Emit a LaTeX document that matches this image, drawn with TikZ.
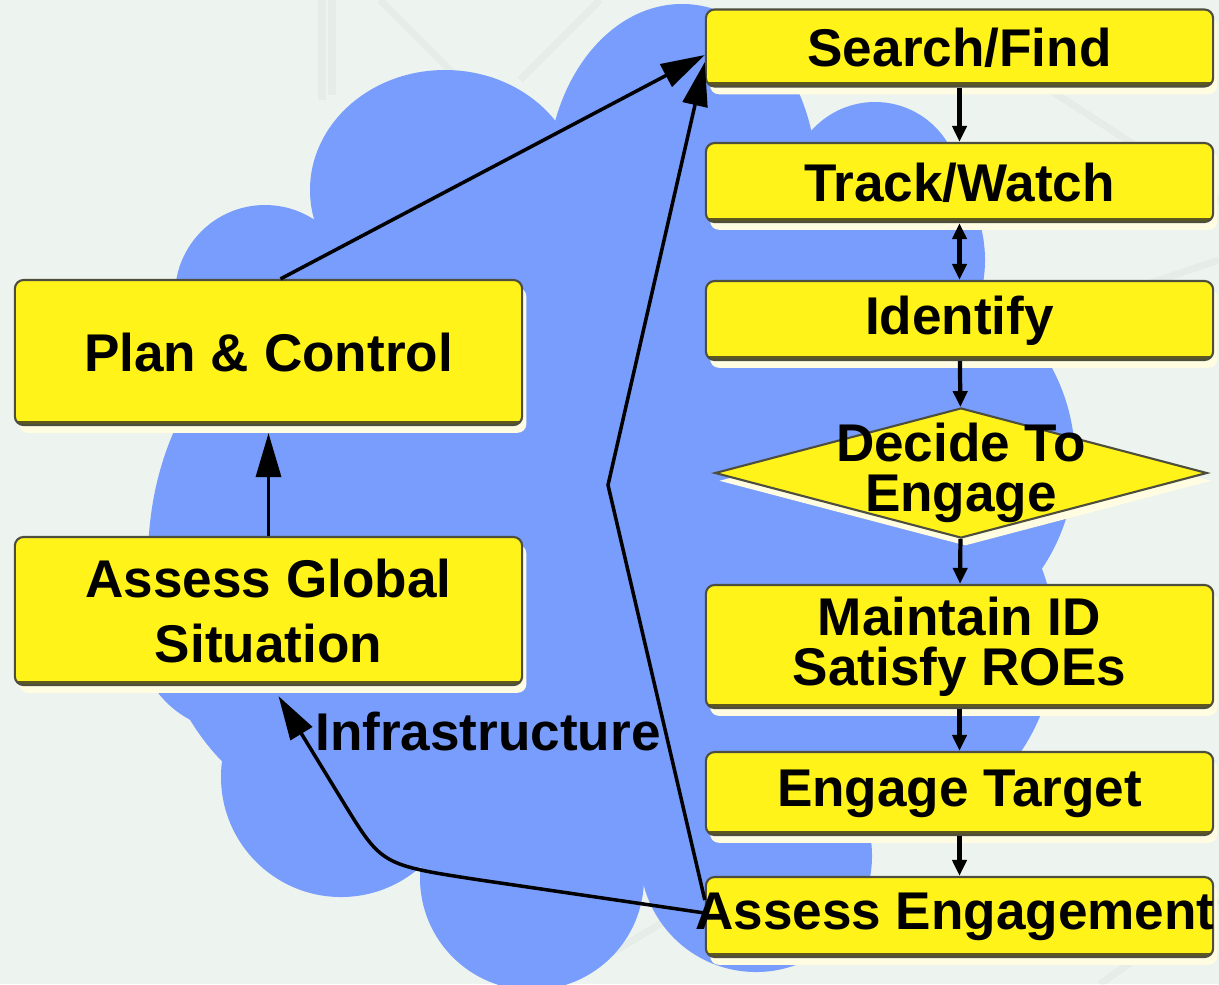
\documentclass[tikz,border=0pt]{standalone}
\usepackage{fontspec}
\setmainfont{Liberation Sans}
\usetikzlibrary{arrows.meta,shapes.geometric}

\definecolor{paper}{RGB}{237,243,238}
\definecolor{cloudblue}{RGB}{120,157,252}
\definecolor{boxyellow}{RGB}{255,243,25}
\definecolor{boxline}{RGB}{78,78,62}
\definecolor{boxbase}{RGB}{92,88,32}
\definecolor{halo}{RGB}{255,252,226}

\tikzset{
  task/.style={rectangle, rounded corners=2.5pt, fill=boxyellow, draw=boxline,
    line width=0.6pt, minimum width=5.07cm, inner sep=0pt, align=center,
    font=\fontsize{15.1}{14.2}\selectfont\bfseries,
    preaction={fill=halo, transform canvas={xshift=1.2pt,yshift=-2.2pt}},
    path picture={\draw[boxbase, line width=2.4pt]
      (path picture bounding box.south west) -- (path picture bounding box.south east);}},
  decision/.style={diamond, fill=boxyellow, draw=boxline, line width=0.6pt,
    minimum width=4.92cm, minimum height=1.30cm, inner sep=0pt,
    preaction={fill=halo, transform canvas={xshift=1.2pt,yshift=-2.2pt}}},
  caption/.style={inner sep=0pt, align=center,
    font=\fontsize{15.1}{14.2}\selectfont\bfseries},
  link/.style={-{Triangle[length=0.16cm,width=0.14cm]}, line width=1.2pt},
  twolink/.style={{Triangle[length=0.16cm,width=0.14cm]}-{Triangle[length=0.16cm,width=0.14cm]}, line width=1.2pt},
  bigflow/.style={-{Triangle[length=0.44cm,width=0.25cm]}, line width=1pt},
  mapline/.style={gray, opacity=0.06, line width=2pt}
}

\begin{document}
\begin{tikzpicture}[x=0.01cm,y=-0.01cm]
  \useasboundingbox (0,0) rectangle (1219,984);
  \clip (0,0) rectangle (1219,984);
  \fill[paper] (0,0) rectangle (1219,984);

  % faint map lines of the backdrop
  \draw[mapline] (322,0) -- (322,100) (332,0) -- (332,95);
  \draw[mapline] (380,0) -- (470,90) (600,0) -- (520,80);
  \draw[mapline] (1050,90) -- (1219,200) (1100,300) -- (1219,260);
  \draw[mapline] (560,984) -- (700,900) (1100,984) -- (1219,900);

  % the cloud
  \begin{scope}[fill=cloudblue]
    \fill (200,300) -- (440,160) -- (700,120) -- (840,230) -- (950,450)
      -- (960,650) -- (800,860) -- (540,880) -- (380,860) -- (260,760)
      -- (190,640) -- (200,400) -- cycle;
    \fill (445,190) ellipse [x radius=135, y radius=120];
    \fill (682,182) ellipse [x radius=135, y radius=178];
    \fill (265,295) circle [radius=90];
    \fill (330,560) ellipse [x radius=182, y radius=250];
    \fill (240,640) ellipse [x radius=100, y radius=92];
    \fill (341,777) circle [radius=120];
    \fill (532,878) circle [radius=112];
    \fill (756,856) circle [radius=116];
    \fill (855,640) circle [radius=200];
    \fill (880,460) circle [radius=195];
    \fill (850,260) circle [radius=135];
    \fill (875,187) circle [radius=85];
  \end{scope}

  % left column
  \node[task, minimum height=1.45cm] (plan) at (268.5,352.5) {Plan \& Control};
  \node[task, minimum height=1.48cm] (global) at (268.5,611) {Assess Global\\[4pt]Situation};

  % right column
  \node[task, minimum height=0.77cm] (search) at (959.5,48) {Search/Find};
  \node[task, minimum height=0.79cm] (track) at (959.5,182.5) {Track/Watch};
  \node[task, minimum height=0.79cm] (identify) at (959.5,320.5) {Identify};
  \node[decision] (decide) at (961,473) {};
  \node[caption] (decidetxt) at (decide.center) {Decide To\\Engage};
  \node[task, minimum height=1.23cm] (maintain) at (959.5,646.5) {Maintain ID\\Satisfy ROEs};
  \node[task, minimum height=0.83cm] (engage) at (959.5,793.5) {Engage Target};
  \node[task, minimum height=0.80cm] (assess) at (959.5,917) {\makebox[4.9cm]{Assess Engagement\hspace{0.09cm}}};

  \node[caption] (infra) at (488,731) {Infrastructure};

  % steps down the right column
  \draw[link] (search) -- (track);
  \draw[twolink] (track) -- (identify);
  \draw[link] (identify) -- (decide);
  \draw[link] (decide) -- (maintain);
  \draw[link] (maintain) -- (engage);
  \draw[link] (engage) -- (assess);

  % loops back through the cloud
  \coordinate (fold) at (608,485);
  \coordinate (bendA) at (480,880);
  \coordinate (bendB) at (345,805);
  \draw[bigflow] (global.north) -- ([yshift=-0.07cm]plan.south);
  \draw[bigflow] ([xshift=0.12cm]plan.north) -- ([yshift=-0.07cm]search.west);
  \draw[bigflow] ([yshift=0.17cm]assess.west) -- (fold) -- ([yshift=-0.14cm]search.west);
  \draw[bigflow] ([yshift=0.04cm]assess.west) -- (bendA) .. controls (382,865) .. (bendB)
    -- ([xshift=0.1cm,yshift=-0.1cm]global.south);
\end{tikzpicture}
\end{document}
